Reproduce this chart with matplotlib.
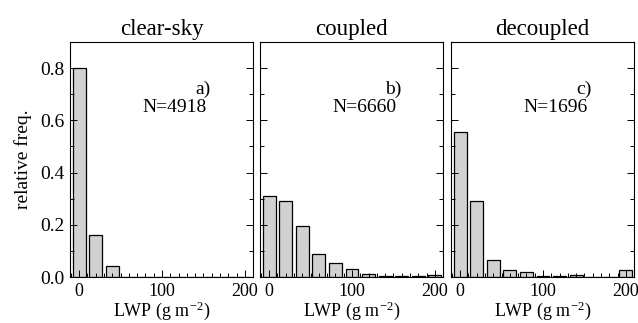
import numpy as np
import matplotlib.pyplot as plt
from matplotlib.ticker import MultipleLocator

plt.rcParams['font.family'] = ['Liberation Serif', 'DejaVu Serif']
plt.rcParams['mathtext.fontset'] = 'stix'

# bin centres (g m-2) and relative frequencies
bins = [0, 20, 40, 60, 80, 100, 120, 140, 160, 180, 200]
clear_sky = [0.80, 0.16, 0.041, 0, 0, 0, 0, 0, 0, 0, 0]
coupled = [0.31, 0.29, 0.197, 0.087, 0.054, 0.031, 0.013, 0.003, 0.002, 0.002, 0.006]
decoupled = [0.555, 0.29, 0.067, 0.028, 0.021, 0.004, 0.004, 0.008, 0.001, 0.001, 0.026]

titles = ['clear-sky', 'coupled', 'decoupled']
letters = ['a)', 'b)', 'c)']
counts = [4918, 6660, 1696]
series = [clear_sky, coupled, decoupled]
lefts = [0.1097, 0.4075, 0.7069]

fig = plt.figure(figsize=(6.38, 3.23), dpi=100)

for i in range(3):
    ax = fig.add_axes([lefts[i], 0.1424, 0.287, 0.7276])
    ax.bar(bins, series[i], width=15.5, color='#d0d1d3', edgecolor='black', linewidth=0.9)
    ax.set_xlim(-11, 210)
    ax.set_ylim(0, 0.9)
    ax.set_xticks([0, 100, 200])
    ax.xaxis.set_minor_locator(MultipleLocator(10))
    ax.set_yticks([0, 0.2, 0.4, 0.6, 0.8])
    ax.yaxis.set_minor_locator(MultipleLocator(0.1))
    ax.tick_params(which='both', direction='in', right=True, top=False)
    ax.tick_params(axis='y', labelsize=14)
    ax.tick_params(axis='x', labelsize=13)
    ax.tick_params(which='major', length=5, width=0.7, pad=4)
    ax.tick_params(which='minor', length=3, width=0.7)
    if i == 0:
        ax.set_yticklabels(['0.0', '0.2', '0.4', '0.6', '0.8'])
        ax.set_ylabel('relative freq.', fontsize=14, labelpad=6)
    else:
        ax.set_yticklabels([])
    ax.set_xlabel('LWP (g m$^{\\mathregular{-2}}$)', fontsize=13, labelpad=0)
    ax.set_title(titles[i], fontsize=16.5, pad=5)
    ax.text(0.77, 0.80, letters[i], transform=ax.transAxes, ha='right', va='center', fontsize=14)
    ax.text(0.745, 0.72, 'N=%d' % counts[i], transform=ax.transAxes, ha='right', va='center', fontsize=14)
    for s in ax.spines.values():
        s.set_linewidth(0.8)

fig.savefig('out.png', dpi=100)
